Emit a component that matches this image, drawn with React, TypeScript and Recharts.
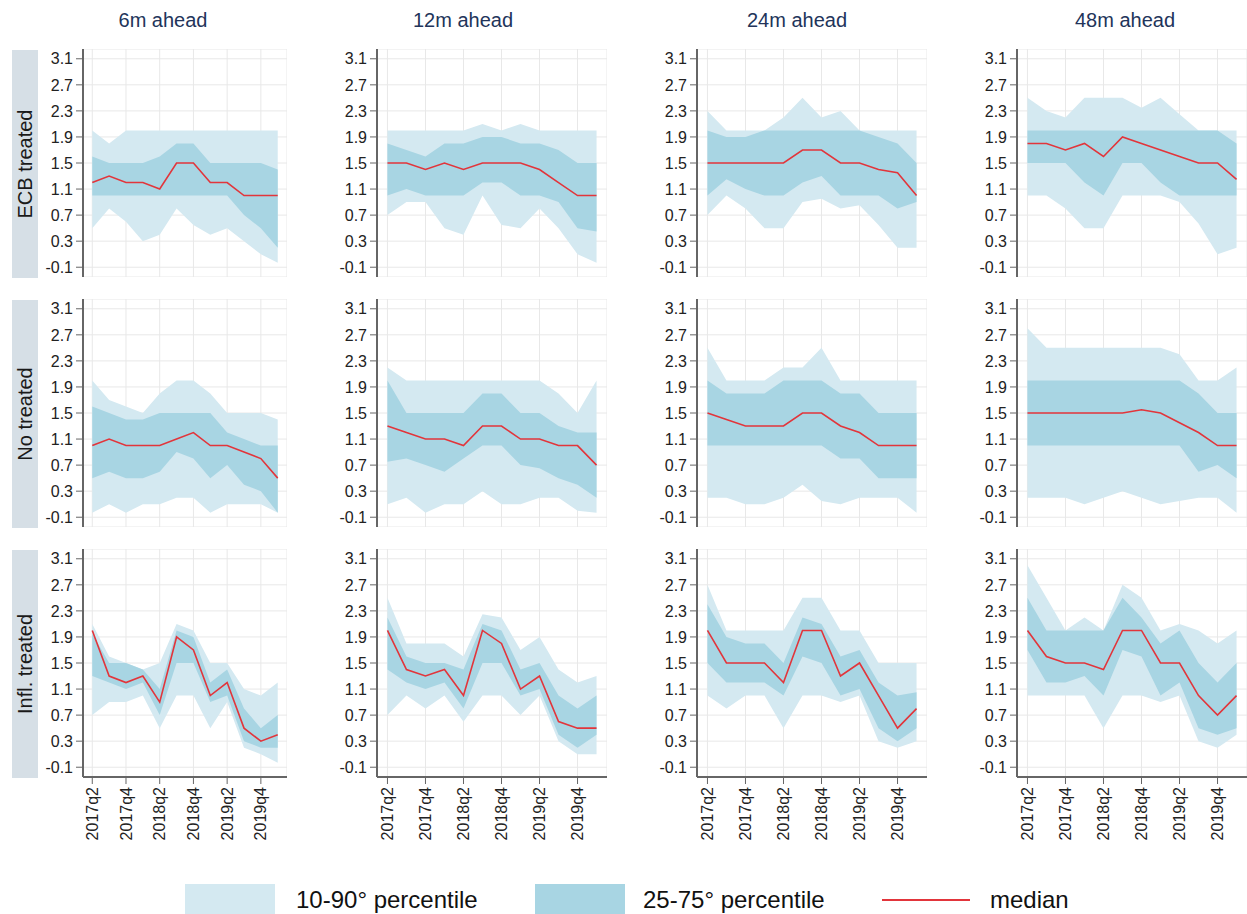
import React from "react";
import { ComposedChart, Area, Line, XAxis, YAxis, CartesianGrid } from "recharts";

const quarters = ["2017q2","2017q3","2017q4","2018q1","2018q2","2018q3","2018q4","2019q1","2019q2","2019q3","2019q4","2020q1"];
const xTicks = [0, 2, 4, 6, 8, 10];
const yTicks = [-0.1, 0.3, 0.7, 1.1, 1.5, 1.9, 2.3, 2.7, 3.1];
const colTitles = ["6m ahead", "12m ahead", "24m ahead", "48m ahead"];
const rowTitles = ["ECB treated", "No treated", "Infl. treated"];
const legendLabels = ["10-90° percentile", "25-75° percentile", "median"];

// ECB treated
const ecb6P10 = [0.5,0.8,0.6,0.3,0.4,0.8,0.55,0.4,0.5,0.3,0.1,-0.03];
const ecb6P25 = [1.0,1.0,1.0,1.0,1.0,1.0,1.0,1.0,1.0,0.7,0.5,0.2];
const ecb6P75 = [1.6,1.5,1.5,1.5,1.6,1.8,1.8,1.5,1.5,1.5,1.5,1.4];
const ecb6P90 = [2.0,1.8,2.0,2.0,2.0,2.0,2.0,2.0,2.0,2.0,2.0,2.0];
const ecb6Med = [1.2,1.3,1.2,1.2,1.1,1.5,1.5,1.2,1.2,1.0,1.0,1.0];

const ecb12P10 = [0.7,0.9,0.9,0.5,0.4,1.0,0.55,0.5,0.8,0.5,0.1,-0.03];
const ecb12P25 = [1.0,1.1,1.0,1.0,1.0,1.2,1.2,1.0,1.0,0.9,0.5,0.45];
const ecb12P75 = [1.8,1.7,1.6,1.8,1.8,1.9,1.9,1.8,1.8,1.7,1.5,1.5];
const ecb12P90 = [2.0,2.0,2.0,2.0,2.0,2.1,2.0,2.1,2.0,2.0,2.0,2.0];
const ecb12Med = [1.5,1.5,1.4,1.5,1.4,1.5,1.5,1.5,1.4,1.2,1.0,1.0];

const ecb24P10 = [0.7,1.0,0.8,0.5,0.5,0.9,0.95,0.8,0.85,0.55,0.2,0.2];
const ecb24P25 = [1.0,1.25,1.1,1.0,1.0,1.2,1.3,1.0,1.0,1.0,0.8,0.9];
const ecb24P75 = [2.0,1.9,1.9,2.0,2.0,2.0,2.0,2.0,2.0,1.9,1.8,1.5];
const ecb24P90 = [2.3,2.0,2.0,2.0,2.2,2.5,2.2,2.3,2.0,2.0,2.0,2.0];
const ecb24Med = [1.5,1.5,1.5,1.5,1.5,1.7,1.7,1.5,1.5,1.4,1.35,1.0];

const ecb48P10 = [1.0,1.0,0.8,0.5,0.5,1.0,1.0,1.0,0.9,0.57,0.1,0.2];
const ecb48P25 = [1.5,1.5,1.5,1.2,1.0,1.5,1.5,1.2,1.0,1.0,1.0,1.0];
const ecb48P75 = [2.0,2.0,2.0,2.0,2.0,2.0,2.0,2.0,2.0,2.0,2.0,1.8];
const ecb48P90 = [2.5,2.3,2.2,2.5,2.5,2.5,2.35,2.5,2.25,2.0,2.0,2.0];
const ecb48Med = [1.8,1.8,1.7,1.8,1.6,1.9,1.8,1.7,1.6,1.5,1.5,1.25];

// No treated
const no6P10 = [-0.03,0.1,-0.03,0.1,0.1,0.2,0.2,-0.03,0.1,0.1,0.1,-0.03];
const no6P25 = [0.5,0.6,0.5,0.5,0.6,0.9,0.8,0.5,0.7,0.4,0.3,-0.03];
const no6P75 = [1.6,1.5,1.4,1.4,1.5,1.5,1.5,1.5,1.2,1.1,1.0,1.0];
const no6P90 = [2.0,1.7,1.6,1.5,1.8,2.0,2.0,1.8,1.5,1.5,1.5,1.4];
const no6Med = [1.0,1.1,1.0,1.0,1.0,1.1,1.2,1.0,1.0,0.9,0.8,0.5];

const no12P10 = [0.1,0.2,-0.03,0.1,0.1,0.3,0.1,0.1,0.2,0.2,0.0,-0.03];
const no12P25 = [0.75,0.8,0.7,0.6,0.8,1.0,1.0,0.7,0.65,0.5,0.4,0.2];
const no12P75 = [2.0,1.5,1.5,1.5,1.5,1.8,1.8,1.5,1.5,1.3,1.2,1.2];
const no12P90 = [2.2,2.0,2.0,2.0,2.0,2.0,2.0,2.0,2.0,1.8,1.5,2.0];
const no12Med = [1.3,1.2,1.1,1.1,1.0,1.3,1.3,1.1,1.1,1.0,1.0,0.7];

const no24P10 = [0.2,0.2,0.1,0.1,0.2,0.4,0.15,0.1,0.2,0.2,0.2,-0.03];
const no24P25 = [1.0,1.0,1.0,1.0,1.0,1.0,1.0,0.8,0.8,0.5,0.5,0.5];
const no24P75 = [2.0,1.8,1.8,1.8,2.0,2.0,2.0,1.8,1.8,1.5,1.5,1.5];
const no24P90 = [2.5,2.0,2.0,2.0,2.2,2.2,2.5,2.0,2.0,2.0,2.0,2.0];
const no24Med = [1.5,1.4,1.3,1.3,1.3,1.5,1.5,1.3,1.2,1.0,1.0,1.0];

const no48P10 = [0.2,0.2,0.2,0.1,0.2,0.3,0.2,0.1,0.15,0.2,0.2,-0.03];
const no48P25 = [1.0,1.0,1.0,1.0,1.0,1.0,1.0,1.0,1.0,0.6,0.7,0.5];
const no48P75 = [2.0,2.0,2.0,2.0,2.0,2.0,2.0,2.0,2.0,1.8,1.5,1.5];
const no48P90 = [2.8,2.5,2.5,2.5,2.5,2.5,2.5,2.5,2.4,2.0,2.0,2.2];
const no48Med = [1.5,1.5,1.5,1.5,1.5,1.5,1.55,1.5,1.35,1.2,1.0,1.0];

// Infl. treated
const inf6P10 = [0.7,0.9,0.9,1.0,0.5,1.0,1.0,0.5,0.9,0.2,0.1,-0.03];
const inf6P25 = [1.3,1.2,1.1,1.2,0.7,1.5,1.5,0.9,1.0,0.3,0.2,0.2];
const inf6P75 = [1.95,1.5,1.5,1.4,1.1,2.0,1.9,1.2,1.4,0.8,0.5,0.7];
const inf6P90 = [2.1,1.6,1.5,1.4,1.5,2.1,2.0,1.5,1.5,1.1,1.0,1.2];
const inf6Med = [2.0,1.3,1.2,1.3,0.9,1.9,1.7,1.0,1.2,0.5,0.3,0.4];

const inf12P10 = [0.7,1.0,0.8,1.0,0.6,1.0,1.0,0.7,1.0,0.3,0.1,0.1];
const inf12P25 = [1.4,1.2,1.1,1.2,0.8,1.5,1.5,1.0,1.1,0.4,0.2,0.4];
const inf12P75 = [2.2,1.6,1.5,1.5,1.4,2.1,2.0,1.4,1.5,1.0,0.8,1.0];
const inf12P90 = [2.5,1.8,1.8,1.8,1.6,2.25,2.2,1.7,1.9,1.4,1.2,1.3];
const inf12Med = [2.0,1.4,1.3,1.4,1.0,2.0,1.8,1.1,1.3,0.6,0.5,0.5];

const inf24P10 = [1.0,0.8,1.0,1.0,0.5,1.0,1.0,0.9,1.0,0.3,0.2,0.3];
const inf24P25 = [1.5,1.2,1.2,1.2,1.0,1.6,1.5,1.0,1.1,0.5,0.3,0.5];
const inf24P75 = [2.4,1.9,1.8,1.8,1.5,2.2,2.1,1.6,1.7,1.2,1.0,1.05];
const inf24P90 = [2.7,2.0,2.0,2.0,2.0,2.5,2.5,2.0,2.0,1.5,1.5,1.5];
const inf24Med = [2.0,1.5,1.5,1.5,1.2,2.0,2.0,1.3,1.5,1.0,0.5,0.8];

const inf48P10 = [1.0,1.0,1.0,1.0,0.5,1.0,1.0,0.9,1.0,0.3,0.2,0.4];
const inf48P25 = [1.7,1.2,1.2,1.3,1.0,1.7,1.6,1.0,1.2,0.5,0.4,0.5];
const inf48P75 = [2.5,2.0,2.0,2.0,2.0,2.5,2.2,1.8,2.0,1.5,1.2,1.5];
const inf48P90 = [3.0,2.5,2.0,2.2,2.0,2.7,2.5,2.0,2.1,2.0,1.8,2.0];
const inf48Med = [2.0,1.6,1.5,1.5,1.4,2.0,2.0,1.5,1.5,1.0,0.7,1.0];

const panels = [
  [
    [ecb6P10, ecb6P25, ecb6P75, ecb6P90, ecb6Med],
    [ecb12P10, ecb12P25, ecb12P75, ecb12P90, ecb12Med],
    [ecb24P10, ecb24P25, ecb24P75, ecb24P90, ecb24Med],
    [ecb48P10, ecb48P25, ecb48P75, ecb48P90, ecb48Med],
  ],
  [
    [no6P10, no6P25, no6P75, no6P90, no6Med],
    [no12P10, no12P25, no12P75, no12P90, no12Med],
    [no24P10, no24P25, no24P75, no24P90, no24Med],
    [no48P10, no48P25, no48P75, no48P90, no48Med],
  ],
  [
    [inf6P10, inf6P25, inf6P75, inf6P90, inf6Med],
    [inf12P10, inf12P25, inf12P75, inf12P90, inf12Med],
    [inf24P10, inf24P25, inf24P75, inf24P90, inf24Med],
    [inf48P10, inf48P25, inf48P75, inf48P90, inf48Med],
  ],
];

const LIGHT = "#d4e9f1";
const DARK = "#a8d5e3";
const RED = "#e2353b";
const AXIS = "#666666";
const GRID = "#e8e8e8";
const FONT = "'Liberation Sans', Arial, Helvetica, sans-serif";

const plotLefts = [83, 377, 697, 1017];
const plotWidths = [204, 230, 230, 230];
const plotTops = [49, 299, 549];
const PLOT_H = 228;
const YW = 50;
const XH = 75;

const XTick = (props: any) => {
  const { x, y, payload } = props;
  return (
    <g transform={`translate(${x},${y})`}>
      <text transform="rotate(-90)" textAnchor="end" dy="0.35em" x={-1} fill="#222" fontSize={16} fontFamily={FONT}>
        {quarters[payload.value]}
      </text>
    </g>
  );
};

function Panel({ row, col }: { row: number; col: number }) {
  const [p10, p25, p75, p90, med] = panels[row][col];
  const data = quarters.map((_, i) => ({
    i,
    outer: [p10[i], p90[i]],
    inner: [p25[i], p75[i]],
    med: med[i],
  }));
  const bottom = row === 2;
  const w = plotWidths[col] + YW;
  const h = PLOT_H + (bottom ? XH : 0);
  return (
    <div style={{ position: "absolute", left: plotLefts[col] - YW, top: plotTops[row] }}>
      <ComposedChart width={w} height={h} data={data} margin={{ top: 0, right: 0, left: 0, bottom: 0 }}>
        <CartesianGrid stroke={GRID} strokeWidth={1} />
        <XAxis
          dataKey="i"
          type="number"
          domain={[-0.55, 11.55]}
          ticks={xTicks}
          allowDataOverflow
          hide={!bottom}
          height={bottom ? XH : 0}
          interval={0}
          axisLine={{ stroke: AXIS, strokeWidth: 2 }}
          tickLine={{ stroke: AXIS }}
          tickSize={7}
          tickMargin={2}
          tick={<XTick />}
        />
        <YAxis
          type="number"
          domain={[-0.25, 3.25]}
          ticks={yTicks}
          allowDataOverflow
          interval={0}
          width={YW}
          axisLine={{ stroke: AXIS, strokeWidth: 2 }}
          tickLine={{ stroke: AXIS }}
          tickSize={7}
          tickMargin={3}
          tickFormatter={(v: number) => v.toFixed(1)}
          tick={{ fill: "#222", fontSize: 16, fontFamily: FONT }}
        />
        <Area type="linear" dataKey="outer" fill={LIGHT} fillOpacity={1} stroke="none" isAnimationActive={false} />
        <Area type="linear" dataKey="inner" fill={DARK} fillOpacity={1} stroke="none" isAnimationActive={false} />
        <Line type="linear" dataKey="med" stroke={RED} strokeWidth={1.6} dot={false} isAnimationActive={false} />
      </ComposedChart>
    </div>
  );
}

const titleCenters = [163, 463, 797, 1125];

export default function App() {
  return (
    <div style={{ position: "absolute", left: 0, top: 0, width: 1247, height: 914, overflow: "hidden", background: "#fff", fontFamily: FONT }}>
      {colTitles.map((t, c) => (
        <div key={t} style={{ position: "absolute", left: titleCenters[c] - 100, width: 200, top: 7, textAlign: "center", fontSize: 20, color: "#22345a", lineHeight: "26px" }}>
          {t}
        </div>
      ))}
      {rowTitles.map((t, r) => (
        <div key={t} style={{ position: "absolute", left: 12, top: plotTops[r] + 1, width: 26, height: PLOT_H, background: "#d6dfe6" }}>
          <div style={{ position: "absolute", left: 13, top: PLOT_H / 2, transform: "translate(-50%, -50%) rotate(-90deg)", whiteSpace: "nowrap", fontSize: 20, color: "#1a1a1a", lineHeight: "24px" }}>
            {t}
          </div>
        </div>
      ))}
      {[0, 1, 2].map((r) => [0, 1, 2, 3].map((c) => <Panel key={`${r}-${c}`} row={r} col={c} />))}
      <div style={{ position: "absolute", left: 185, top: 884, width: 90, height: 30, background: LIGHT }} />
      <div style={{ position: "absolute", left: 296, top: 884, fontSize: 24, color: "#111", lineHeight: "32px" }}>{legendLabels[0]}</div>
      <div style={{ position: "absolute", left: 535, top: 884, width: 90, height: 30, background: DARK }} />
      <div style={{ position: "absolute", left: 643, top: 884, fontSize: 24, color: "#111", lineHeight: "32px" }}>{legendLabels[1]}</div>
      <div style={{ position: "absolute", left: 882, top: 899, width: 88, height: 2, background: RED }} />
      <div style={{ position: "absolute", left: 990, top: 884, fontSize: 24, color: "#111", lineHeight: "32px" }}>{legendLabels[2]}</div>
    </div>
  );
}
